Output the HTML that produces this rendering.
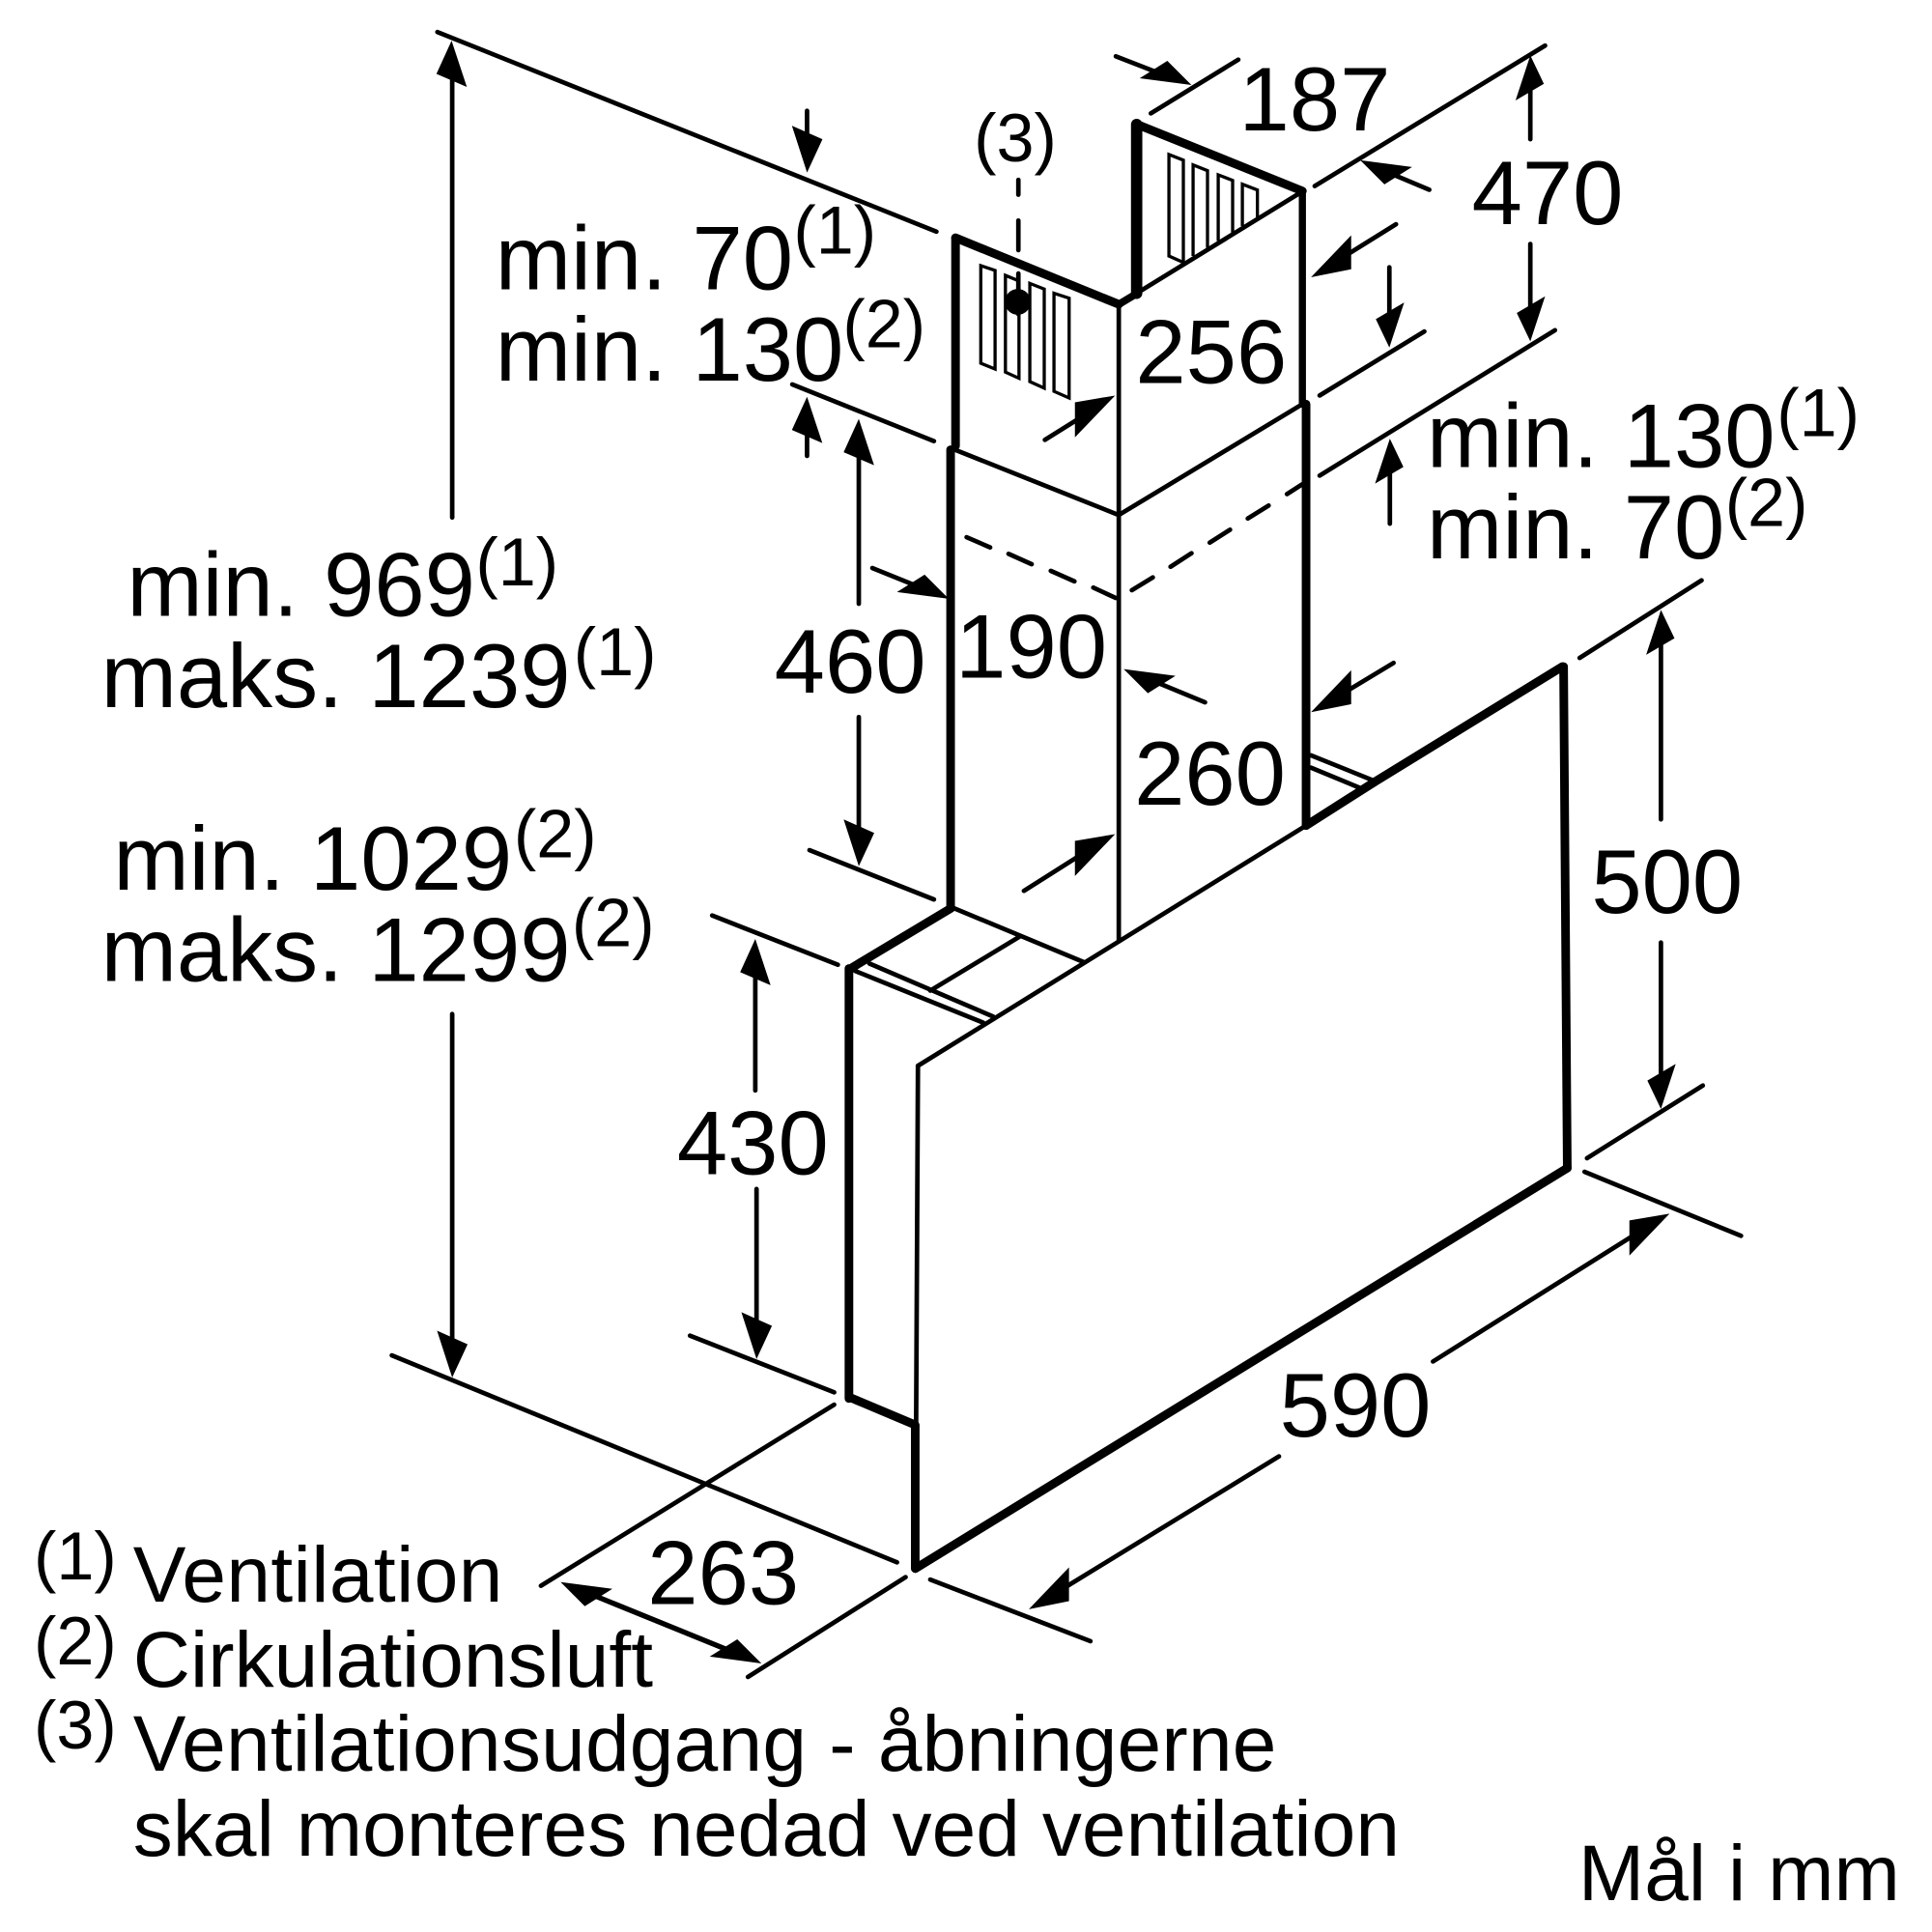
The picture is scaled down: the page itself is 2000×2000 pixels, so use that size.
<!DOCTYPE html>
<html><head><meta charset="utf-8"><style>
html,body{margin:0;padding:0;background:#fff}
svg{display:block}
text{font-family:"Liberation Sans",Arial,sans-serif;fill:#000}
.d{font-size:73.7px}
.s{font-size:55px}
.l{font-size:64.3px}
.m{text-anchor:middle}
.t{stroke:#000;stroke-width:3.7;fill:none;stroke-linecap:round}
.n{stroke:#000;stroke-width:2.6;fill:#fff;stroke-linejoin:miter}
.k{stroke:#000;stroke-width:7;fill:none;stroke-linecap:round;stroke-linejoin:round}
</style></head><body>
<svg width="2000" height="2000" viewBox="0 0 1568 1568" xmlns="http://www.w3.org/2000/svg">
<defs>
<polygon id="u" points="0,0 11,23 -12,36.5"/>
<polygon id="w" points="0,0 -11,-23 12,-36.5"/>
<polygon id="u2" points="0,0 -12.3,27 12.4,37.6"/>
<polygon id="w2" points="0,0 -12.3,-38 12.5,-27"/>
<polygon id="b" points="0,0 32.6,-34 32.6,-6.5"/>
<polygon id="f" points="0,0 -32.6,34 -32.6,5.5"/>
<polygon id="c" points="0,0 42,5.5 19.6,19.6"/>
<polygon id="e" points="0,0 -42,-5.5 -19.6,-19.6"/>
</defs>
<rect width="1568" height="1568" fill="#fff"/>

<!-- slots -->
<g class="n">
<polygon points="796,215.6 807.6,219.5 807.6,299.5 796,294.8"/>
<polygon points="816,223.5 827,228 827,307 816,302"/>
<polygon points="835.8,230 847.5,234.6 847.5,315 835.8,309.7"/>
<polygon points="855.4,238 867.7,242 867.7,323 855.4,317.6"/>
<polygon points="948.7,125.4 960.4,130 960.4,213 948.7,207.8"/>
<polyline points="968.3,207.8 968.3,133.8 980,138.5 980,201"/>
<polyline points="988.7,195.5 988.7,141.9 1000.4,146.4 1000.4,188.7"/>
<polyline points="1008.3,183.5 1008.3,149.5 1020.5,154.2 1020.5,176.4"/>
</g>

<!-- body thick -->
<g class="k">
<path d="M775.5,193 V362"/>
<path d="M775.5,193 L908,247"/>
<path d="M922.5,101 V238" style="stroke-width:9.2"/>
<path d="M923,101 L1057,155"/>
<path d="M1057,155 V328" style="stroke-width:5.8"/>
<path d="M1060,328 V670"/>
<path d="M771.5,365 V737"/>
<path d="M772,737 L692,785"/>
<path d="M689,786 V1135"/>
<path d="M689.5,1134 L742.7,1156.4"/>
<path d="M1060,670 L1115,635"/>
<path d="M1115,635 L1268,541"/>
<path d="M1269,541 L1272,948"/>
<path d="M1272,948 L743,1273"/>
<path d="M742.8,1157 V1273"/>
<path d="M908,247 L923,238" style="stroke-width:6"/>
</g>

<!-- body thin -->
<g class="t">
<path d="M908,247 L1056,156"/>
<path d="M908,247 V764"/>
<path d="M908,418 L1057,328"/>
<path d="M775,365 L908,418"/>
<path d="M774,737 L880,781"/>
<path d="M755,804 L827,760.5"/>
<path d="M705.6,782 L806,825"/>
<path d="M694,788 L798,830"/>
<path d="M745,865 L1060,670"/>
<path d="M745,865 L743.5,1160"/>
<path d="M1064,613 L1115,633.6"/>
<path d="M1064,623 L1105,640"/>
</g>

<!-- dashed -->
<g class="t">
<path d="M784.5,436 L803.6,444.3 M818.5,449.5 L837.3,457.9 M852.8,463.3 L872,471.8 M887.3,476.9 L905.5,485.3"/>
<path d="M918.6,479 L935.6,468.6 M950,460 L967,449 M981.8,440.4 L998.3,429.9 M1012.7,420.8 L1029.6,410.3 M1044.5,401 L1057,393"/>
<path d="M826.5,146 V158 M826.5,179 V203 M826.5,222 V255"/>
</g>
<circle cx="826" cy="245" r="10.5" fill="#000"/>

<!-- dimension lines -->
<g class="t">
<path d="M355,26 L760,188"/>
<path d="M643,312 L758,358"/>
<path d="M367,420 V50"/>
<path d="M367,823 V1100"/>
<path d="M318,1100 L728,1268"/>
<path d="M655,90 V120"/>
<path d="M655,370 V345"/>
<path d="M697,490 V365"/>
<path d="M697,582 V680"/>
<path d="M657,690 L758,730"/>
<path d="M578,743 L680,783"/>
<path d="M613,885 V785"/>
<path d="M614,965 V1080"/>
<path d="M560,1084 L677,1130"/>
<path d="M708,461 L750,478"/>
<path d="M978,570 L932,551"/>
<path d="M848,357 L880,337"/>
<path d="M831,723 L880,692"/>
<path d="M905.6,45.7 L950,63"/>
<path d="M934,92 L1005,48.4"/>
<path d="M1067,151 L1254,37"/>
<path d="M1242,113 V65"/>
<path d="M1242,198 V255"/>
<path d="M1160,154 L1122,138"/>
<path d="M1133,182 L1088,210"/>
<path d="M1127.6,217 V260"/>
<path d="M1071,321 L1156,269"/>
<path d="M1071,386 L1262,268"/>
<path d="M1128,425 V380"/>
<path d="M1131,538 L1088,564"/>
<path d="M1348,665 V520"/>
<path d="M1348,765 V875"/>
<path d="M1282,534 L1381,471"/>
<path d="M1288,940 L1382,881"/>
<path d="M1286,951 L1413,1003"/>
<path d="M755,1282 L885,1332"/>
<path d="M1163,1105 L1330,1000"/>
<path d="M1038,1182 L860,1291"/>
<path d="M677,1140 L439,1287"/>
<path d="M735,1280 L607,1361"/>
<path d="M475,1292 L598,1342" style="stroke-width:4.2"/>
</g>

<!-- arrowheads -->
<use href="#u2" x="366.5" y="33"/><use href="#u2" x="655" y="322"/><use href="#u2" x="697" y="340"/><use href="#u2" x="613" y="762"/>
<use href="#u" x="1242" y="45"/><use href="#u" x="1128" y="356"/><use href="#u" x="1348" y="495"/>
<use href="#w2" x="367" y="1118"/><use href="#w2" x="655" y="140"/><use href="#w2" x="697" y="703"/><use href="#w2" x="614" y="1103"/>
<use href="#w" x="1242" y="277"/><use href="#w" x="1127.6" y="282"/><use href="#w" x="1348" y="900"/>
<use href="#b" x="1064" y="225"/><use href="#b" x="1064" y="578"/><use href="#b" x="835" y="1306"/>
<use href="#f" x="905" y="321"/><use href="#f" x="905" y="677"/><use href="#f" x="1355" y="985"/>
<use href="#c" x="1104" y="130"/><use href="#c" x="912" y="543"/><use href="#c" x="455" y="1284"/>
<use href="#e" x="967" y="69"/><use href="#e" x="770" y="486"/><use href="#e" x="618" y="1350"/>

<!-- labels -->
<text class="d m" x="1067" y="106">187</text>
<text class="d m" x="1256" y="182">470</text>
<text class="d m" x="983" y="311">256</text>
<text class="s m" x="824" y="131">(3)</text>
<text class="d" x="402" y="235">min. 70</text><text class="s" x="644" y="206">(1)</text>
<text class="d" x="402" y="309">min. 130</text><text class="s" x="684" y="282">(2)</text>
<text class="d" x="1158" y="379">min. 130</text><text class="s" x="1442" y="354">(1)</text>
<text class="d" x="1158" y="453">min. 70</text><text class="s" x="1400" y="427">(2)</text>
<text class="d" x="103" y="500">min. 969</text><text class="s" x="386" y="475">(1)</text>
<text class="d" x="82" y="574">maks. 1239</text><text class="s" x="465.5" y="548">(1)</text>
<text class="d" x="92" y="722">min. 1029</text><text class="s" x="417" y="696">(2)</text>
<text class="d" x="82" y="796">maks. 1299</text><text class="s" x="464" y="768">(2)</text>
<text class="d m" x="690" y="562">460</text>
<text class="d m" x="837" y="550">190</text>
<text class="d m" x="982" y="653">260</text>
<text class="d m" x="611" y="953">430</text>
<text class="d m" x="1353" y="741">500</text>
<text class="d m" x="1100" y="1166">590</text>
<text class="d m" x="587" y="1302">263</text>

<text class="s" x="27.5" y="1282">(1)</text><text class="l" x="108" y="1300" textLength="300">Ventilation</text>
<text class="s" x="27.5" y="1351">(2)</text><text class="l" x="108" y="1369" textLength="422">Cirkulationsluft</text>
<text class="s" x="27.5" y="1419">(3)</text><text class="l" x="108" y="1437" textLength="928">Ventilationsudgang - åbningerne</text>
<text class="l" x="108" y="1506" textLength="1028">skal monteres nedad ved ventilation</text>
<text class="l" x="1281" y="1542" textLength="261">Mål i mm</text>
</svg>
</body></html>
